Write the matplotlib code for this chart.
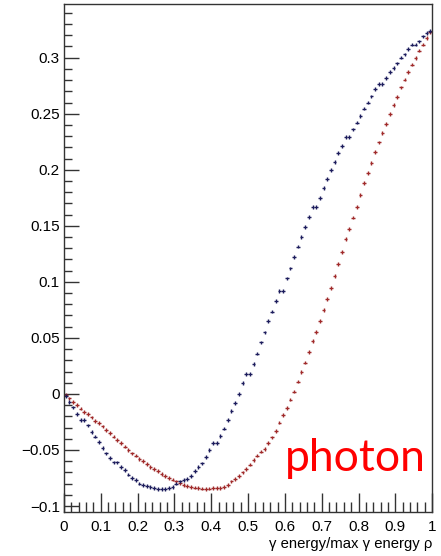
import numpy as np
import matplotlib
matplotlib.use("Agg")
import matplotlib.pyplot as plt
from matplotlib.ticker import MultipleLocator, FuncFormatter

# 100 bins on [0, 1]
bin_edges = np.linspace(0.0, 1.0, 101)
bin_centers = 0.5 * (bin_edges[:-1] + bin_edges[1:])

asym_blue = [
    -0.002, -0.007, -0.012, -0.018, -0.023, -0.023, -0.028, -0.034, -0.038, -0.043,
    -0.048, -0.053, -0.057, -0.061, -0.061, -0.065, -0.068, -0.072, -0.075, -0.077,
    -0.080, -0.081, -0.082, -0.083, -0.084, -0.085, -0.085, -0.085, -0.084, -0.083,
    -0.080, -0.078, -0.077, -0.076, -0.073, -0.069, -0.065, -0.062, -0.056, -0.050,
    -0.044, -0.044, -0.0375, -0.031, -0.023, -0.0154, -0.008, -0.0003, 0.0096, 0.018,
    0.018, 0.0265, 0.036, 0.046, 0.055, 0.065, 0.0735, 0.083, 0.092, 0.092,
    0.103, 0.112, 0.122, 0.1315, 0.140, 0.149, 0.158, 0.167, 0.167, 0.175,
    0.184, 0.192, 0.200, 0.207, 0.215, 0.221, 0.229, 0.229, 0.236, 0.242,
    0.248, 0.2545, 0.260, 0.2655, 0.272, 0.2765, 0.2765, 0.282, 0.287, 0.291,
    0.295, 0.300, 0.303, 0.308, 0.3116, 0.3116, 0.3146, 0.319, 0.322, 0.324,
]

asym_red = [
    -0.001, -0.004, -0.007, -0.010, -0.013, -0.016, -0.018, -0.021, -0.024, -0.026,
    -0.029, -0.032, -0.035, -0.038, -0.041, -0.044, -0.047, -0.050, -0.053, -0.055,
    -0.058, -0.060, -0.0625, -0.065, -0.067, -0.069, -0.0715, -0.073, -0.075, -0.0765,
    -0.078, -0.0795, -0.081, -0.082, -0.083, -0.0835, -0.084, -0.0845, -0.0846, -0.0845,
    -0.084, -0.084, -0.0837, -0.083, -0.081, -0.078, -0.076, -0.073, -0.070, -0.067,
    -0.063, -0.059, -0.055, -0.0515, -0.049, -0.044, -0.0387, -0.033, -0.0256, -0.019,
    -0.0128, -0.005, 0.002, 0.011, 0.0194, 0.028, 0.0375, 0.047, 0.0554, 0.0652,
    0.075, 0.0845, 0.0946, 0.1054, 0.1158, 0.1265, 0.138, 0.147, 0.1574, 0.1667,
    0.1777, 0.1881, 0.197, 0.206, 0.2158, 0.2244, 0.2328, 0.2411, 0.2497, 0.2580,
    0.2649, 0.2735, 0.2804, 0.2872, 0.2938, 0.2997, 0.3063, 0.3116, 0.3176, 0.3226,
]

stat_err = 0.0016

plt.rcParams['font.family'] = ['Liberation Sans', 'DejaVu Sans']

fig = plt.figure(figsize=(4.41, 5.56), dpi=100)
ax = fig.add_axes([0.145, 0.079, 0.835, 0.914])

half_w = 0.5 * np.diff(bin_edges)
ax.errorbar(bin_centers, asym_red, xerr=half_w, yerr=stat_err, fmt='none',
            ecolor='#a02a2a', elinewidth=1.0, capsize=0)
ax.errorbar(bin_centers, asym_blue, xerr=half_w, yerr=stat_err, fmt='none',
            ecolor='#1c1c5c', elinewidth=1.0, capsize=0)

ax.set_xlim(0, 1)
ax.set_ylim(-0.1054, 0.348)

ax.xaxis.set_major_locator(MultipleLocator(0.1))
ax.xaxis.set_minor_locator(MultipleLocator(0.02))
ax.yaxis.set_major_locator(MultipleLocator(0.05))
ax.yaxis.set_minor_locator(MultipleLocator(0.01))


def root_fmt(v, pos):
    s = f"{v:.2f}".rstrip('0').rstrip('.')
    if s in ('-0', '0'):
        return '0'
    return s.replace('-', '\u2212')


ax.xaxis.set_major_formatter(FuncFormatter(root_fmt))
ax.yaxis.set_major_formatter(FuncFormatter(root_fmt))

ax.tick_params(which='both', direction='in', top=False, right=False,
               colors='#333333', labelcolor='black', labelsize=11)
ax.tick_params(axis='x', which='major', length=14, width=1, pad=6)
ax.tick_params(axis='x', which='minor', length=7, width=1)
ax.tick_params(axis='y', which='major', length=11, width=1, pad=3)
ax.tick_params(axis='y', which='minor', length=6, width=1)

for sp in ax.spines.values():
    sp.set_color('#333333')
    sp.set_linewidth(1.0)

ax.set_xlabel('\u03b3 energy/max \u03b3 energy \u03c1', fontsize=10.7, loc='right', labelpad=2)

ax.text(0.983, 0.08, 'photon', transform=ax.transAxes, color='red',
        fontsize=32, family='Lato', ha='right', va='baseline')

fig.savefig('out.png', dpi=100)
